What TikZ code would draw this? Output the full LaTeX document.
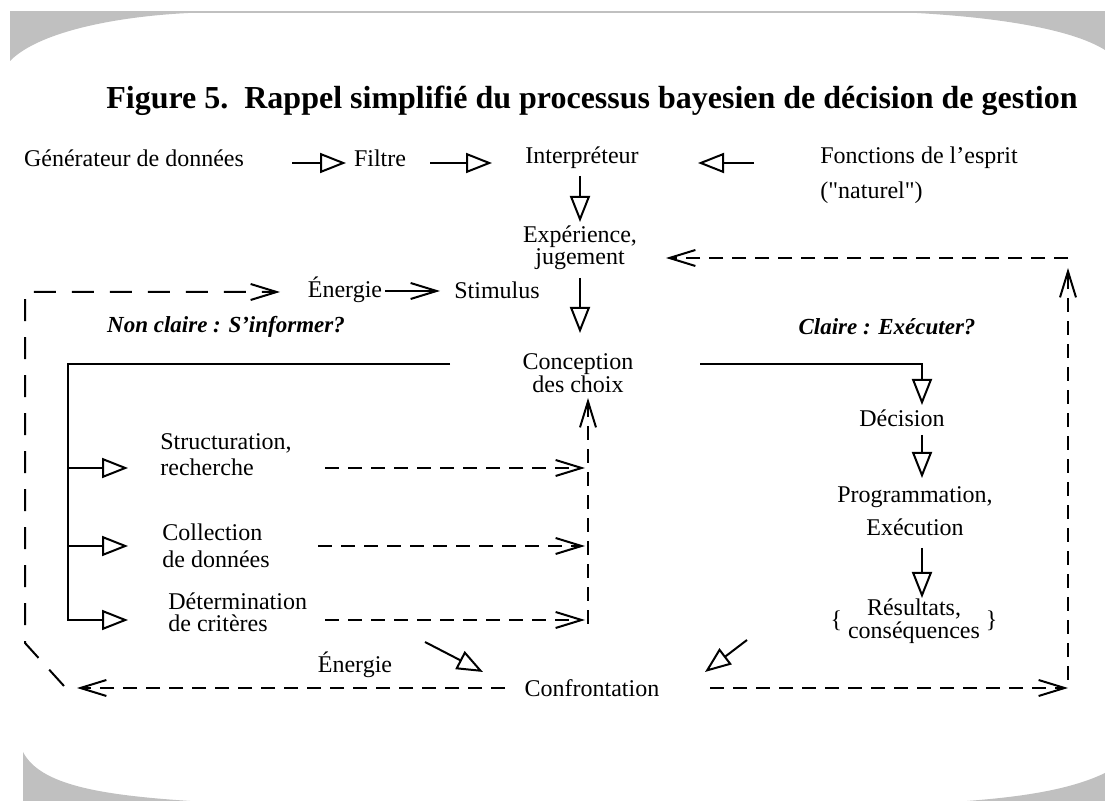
\documentclass[tikz,border=0pt]{standalone}
\usepackage{fontspec}
\setmainfont{Liberation Serif}
\usetikzlibrary{arrows.meta}
\tikzset{>=latex}
\definecolor{cardgray}{RGB}{192,192,192}
\tikzstyle{txt}=[font=\fontsize{12}{12.5}\selectfont,inner sep=1pt]
\tikzstyle{boldit}=[font=\fontsize{11.5}{12}\selectfont\bfseries\itshape,inner sep=1pt]
\tikzstyle{triline}=[draw=black,line width=1pt,-{Triangle[open,length=13pt,width=10pt]}]
\tikzstyle{barbline}=[draw=black,line width=1pt,-{Straight Barb[length=13pt,width=8pt]}]
\tikzstyle{dashline}=[barbline,dash pattern=on 7pt off 4.5pt]
\tikzstyle{longdash}=[draw=black,line width=1pt,dash pattern=on 11pt off 8pt]

\begin{document}
\begin{tikzpicture}[x=0.5pt,y=-0.5pt]
    \useasboundingbox (0,0) rectangle (1105,801);
    \fill[white] (0,0) rectangle (1105,801);
    % card corners
    \draw[cardgray,line width=1.2pt] (10,12) -- (1105,12);
    \fill[cardgray] (10,12) -- (228,12) .. controls (130,12) and (40,30) .. (10,61) -- cycle;
    \fill[cardgray] (897,12) .. controls (990,16) and (1070,28) .. (1105,50) -- (1105,12) -- cycle;
    \fill[cardgray] (23,752) .. controls (40,785) and (100,795) .. (190,801) -- (23,801) -- cycle;
    \fill[cardgray] (1105,773) .. controls (1070,790) and (1020,797) .. (967,801) -- (1105,801) -- cycle;

    \node[font=\fontsize{16}{18}\selectfont\bfseries] (title) at (592,101) {Figure 5.\ \ Rappel simplifié du processus bayesien de décision de gestion};

    % top row
    \node[txt] (gen) at (134,158) {Générateur de données};
    \node[txt] (filtre) at (380,158) {Filtre};
    \node[txt] (interp) at (582,158) {Interpréteur};
    \node[txt,anchor=west] (fonct) at (818,158) {Fonctions de l’esprit};
    \node[txt,anchor=west] (natur) at (818,193) {(\textquotedbl naturel\textquotedbl)};
    \node[txt,align=center,font=\fontsize{12}{11}\selectfont] (exp) at (580,248) {Expérience,\\jugement};
    \node[txt] (energ) at (345,290) {Énergie};
    \node[txt] (stim) at (497,290) {Stimulus};
    \node[boldit] (nonclair) at (226,327) {Non claire : S’informer?};
    \node[boldit] (clair) at (887,327) {Claire : Exécuter?};
    \node[txt,align=center,font=\fontsize{12}{11.5}\selectfont] (conc) at (578,373) {Conception\\des choix};

    % left side
    \node[txt,align=left,anchor=west,font=\fontsize{12}{13}\selectfont] (struct) at (158,455) {Structuration,\\recherche};
    \node[txt,align=left,anchor=west,font=\fontsize{12}{13.5}\selectfont] (collect) at (160,546) {Collection\\de données};
    \node[txt,align=left,anchor=west,font=\fontsize{12}{11}\selectfont] (determ) at (166,612) {Détermination\\de critères};

    % right side
    \node[txt] (decis) at (902,418) {Décision};
    \node[txt,align=center,font=\fontsize{12}{16.5}\selectfont] (prog) at (915,511) {Programmation,\\Exécution};
    \node[txt,font=\fontsize{12}{10.5}\selectfont] (result) at (914,622) {\{\ \begin{tabular}{@{}c@{}}Résultats,\\conséquences\end{tabular}\ \}};

    \node[txt] (energb) at (355,665) {Énergie};
    \node[txt] (confr) at (592,688) {Confrontation};

    % arrow ends
    \coordinate (a1s) at (292,163); \coordinate (a1e) at (346,163);
    \coordinate (a2s) at (430,163); \coordinate (a2e) at (492,163);
    \coordinate (a3s) at (754,163); \coordinate (a3e) at (698,163);
    \coordinate (v1s) at (580,176); \coordinate (v1e) at (580,222);
    \coordinate (v2s) at (580,278); \coordinate (v2e) at (580,333);
    \coordinate (r0) at (700,364); \coordinate (r1) at (922,405);
    \coordinate (v3s) at (922,435); \coordinate (v3e) at (922,478);
    \coordinate (v4s) at (922,548); \coordinate (v4e) at (922,598);
    \coordinate (l0) at (450,364); \coordinate (l1) at (68,364); \coordinate (b3) at (128,620);
    \coordinate (b1s) at (68,468); \coordinate (b1e) at (128,468);
    \coordinate (b2s) at (68,546); \coordinate (b2e) at (128,546);
    \coordinate (d1s) at (325,468); \coordinate (d1e) at (585,468);
    \coordinate (d2s) at (318,546); \coordinate (d2e) at (585,546);
    \coordinate (d3s) at (325,620); \coordinate (d3e) at (585,620);
    \coordinate (upS) at (588,624); \coordinate (upE) at (588,398);
    \coordinate (e1s) at (385,291); \coordinate (e1e) at (440,291);
    \coordinate (lp0) at (64,686); \coordinate (lp1) at (25,643);
    \coordinate (lp2) at (25,292); \coordinate (lp3) at (280,292);
    \coordinate (bl0) at (505,688); \coordinate (bl1) at (77,688);
    \coordinate (br0) at (710,688); \coordinate (br1) at (1068,688);
    \coordinate (rv0) at (1068,680); \coordinate (rv1) at (1068,268);
    \coordinate (tr0) at (1068,258); \coordinate (tr1) at (666,258);
    \coordinate (dg1s) at (425,642); \coordinate (dg1e) at (483,672);
    \coordinate (dg2s) at (747,640); \coordinate (dg2e) at (705,672);

    \draw[triline] (a1s) -- (a1e);
    \draw[triline] (a2s) -- (a2e);
    \draw[triline] (a3s) -- (a3e);
    \draw[triline] (v1s) -- (v1e);
    \draw[triline] (v2s) -- (v2e);
    \draw[barbline] (e1s) -- (e1e);

    \draw[triline] (r0) -| (r1);
    \draw[triline] (v3s) -- (v3e);
    \draw[triline] (v4s) -- (v4e);

    \draw[triline] (l0) -- (l1) |- (b3);
    \draw[triline] (b1s) -- (b1e);
    \draw[triline] (b2s) -- (b2e);
    \draw[dashline] (d1s) -- (d1e);
    \draw[dashline] (d2s) -- (d2e);
    \draw[dashline] (d3s) -- (d3e);
    \draw[dashline] (upS) -- (upE);

    % feedback loops
    \draw[longdash,-{Straight Barb[length=13pt,width=8pt]}] (lp0) -- (lp1) -- (lp2) -- (lp3);
    \draw[dashline] (bl0) -- (bl1);
    \draw[dashline] (br0) -- (br1);
    \draw[dashline] (rv0) -- (rv1);
    \draw[dashline] (tr0) -- (tr1);
    \draw[triline] (dg1s) -- (dg1e);
    \draw[triline] (dg2s) -- (dg2e);
\end{tikzpicture}
\end{document}
